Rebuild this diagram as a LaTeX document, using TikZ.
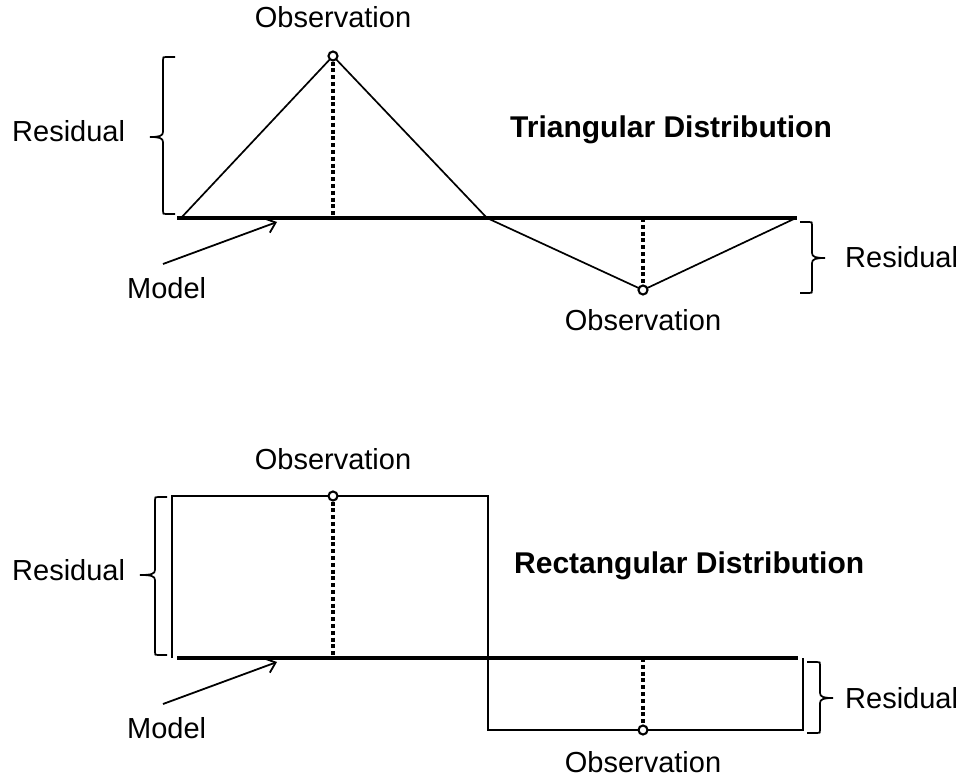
\documentclass[tikz,border=0pt]{standalone}
\usepackage{fontspec}
\setmainfont{Liberation Sans}
\usetikzlibrary{arrows.meta}
\newcommand\BraceLeft[6]{% xe xv xt yt ym yb
  \draw[bracestyle] (#1,#4) -- (#2+3,#4) .. controls (#2,#4) .. (#2,#4+3)
    -- (#2,#5-5) .. controls (#2,#5-1) and (#2-4,#5) .. (#3,#5)
    .. controls (#2-4,#5) and (#2,#5+1) .. (#2,#5+5)
    -- (#2,#6-3) .. controls (#2,#6) .. (#2+3,#6) -- (#1,#6);}
\newcommand\BraceRight[6]{% xe xv xt yt ym yb
  \draw[bracestyle] (#1,#4) -- (#2-3,#4) .. controls (#2,#4) .. (#2,#4+3)
    -- (#2,#5-5) .. controls (#2,#5-1) and (#2+4,#5) .. (#3,#5)
    .. controls (#2+4,#5) and (#2,#5+1) .. (#2,#5+5)
    -- (#2,#6-3) .. controls (#2,#6) .. (#2-3,#6) -- (#1,#6);}
\begin{document}
\begin{tikzpicture}[x=1pt,y=-1pt,
  thinline/.style={line width=1.7pt, line join=miter},
  modelline/.style={line width=3.8pt},
  dotline/.style={line width=3.6pt, dash pattern=on 4pt off 2.8pt},
  obscircle/.style={circle, draw, line width=2.1pt, fill=white, minimum size=9pt, inner sep=0pt},
  lbl/.style={inner sep=0pt, font=\fontsize{29}{34}\selectfont},
  ttl/.style={inner sep=0pt, font=\fontsize{30}{36}\selectfont\bfseries},
  bracestyle/.style={line width=1.7pt},
  arr/.style={line width=1.8pt, -{Straight Barb[length=9pt,width=15pt]}}]
\useasboundingbox (0,0) rectangle (961,778);

% ---------- Triangular ----------
\coordinate (m1) at (177,218);
\coordinate (m2) at (797,218);
\coordinate (t0) at (181,218);
\coordinate (p1) at (333,56);
\coordinate (tx) at (487,218);
\coordinate (p2) at (643,290);
\coordinate (t3) at (796,218);
\coordinate (f1) at (333,218);
\coordinate (f2) at (643,218);

\draw[thinline] (t0) -- (p1) -- (tx) -- (p2) -- (t3);
\draw[modelline] (m1) -- (m2);
\node[obscircle] (o1) at (p1) {};
\node[obscircle] (o2) at (p2) {};
\draw[dotline] (o1.south) -- (f1);
\draw[dotline] (f2) -- (o2.north);

\node[lbl, anchor=base] (obs1) at (333,28) {Observation};
\node[lbl, anchor=base] (obs2) at (643,330) {Observation};
\node[lbl, anchor=base west] (res1) at (12,142) {Residual};
\node[lbl, anchor=base west] (res2) at (845,267) {Residual};
\node[lbl, anchor=base west] (mod1) at (127,298) {Model};
\node[ttl, anchor=base west] (tt1) at (510,138) {Triangular Distribution};

\BraceLeft{175}{163}{150}{57}{137}{214}
\BraceRight{800}{812}{825}{222}{258}{293}

\coordinate (a1s) at (163,264);
\coordinate (a1e) at (277,222);
\draw[arr] (a1s) -- (a1e);

% ---------- Rectangular ----------
\coordinate (m3) at (177,658);
\coordinate (m4) at (798,658);
\coordinate (r1) at (172,658);
\coordinate (r2) at (172,496);
\coordinate (p3) at (333,496);
\coordinate (r3) at (488,496);
\coordinate (r4) at (488,730);
\coordinate (p4) at (643,730);
\coordinate (r5) at (803,730);
\coordinate (r6) at (803,658);
\coordinate (f3) at (333,658);
\coordinate (f4) at (643,658);

\draw[thinline] (r1) -- (r2) -- (r3) -- (r4) -- (r5) -- (r6);
\draw[modelline] (m3) -- (m4);
\node[obscircle] (o3) at (p3) {};
\node[obscircle] (o4) at (p4) {};
\draw[dotline] (o3.south) -- (f3);
\draw[dotline] (f4) -- (o4.north);

\node[lbl, anchor=base] (obs3) at (333,469) {Observation};
\node[lbl, anchor=base] (obs4) at (643,772) {Observation};
\node[lbl, anchor=base west] (res3) at (12,580) {Residual};
\node[lbl, anchor=base west] (res4) at (845,708) {Residual};
\node[lbl, anchor=base west] (mod2) at (127,738) {Model};
\node[ttl, anchor=base west] (tt2) at (514,573) {Rectangular Distribution};

\BraceLeft{167}{155}{140}{497}{575}{655}
\BraceRight{807}{820}{833}{662}{698}{733}

\coordinate (a2s) at (163,704);
\coordinate (a2e) at (277,662);
\draw[arr] (a2s) -- (a2e);
\end{tikzpicture}
\end{document}
